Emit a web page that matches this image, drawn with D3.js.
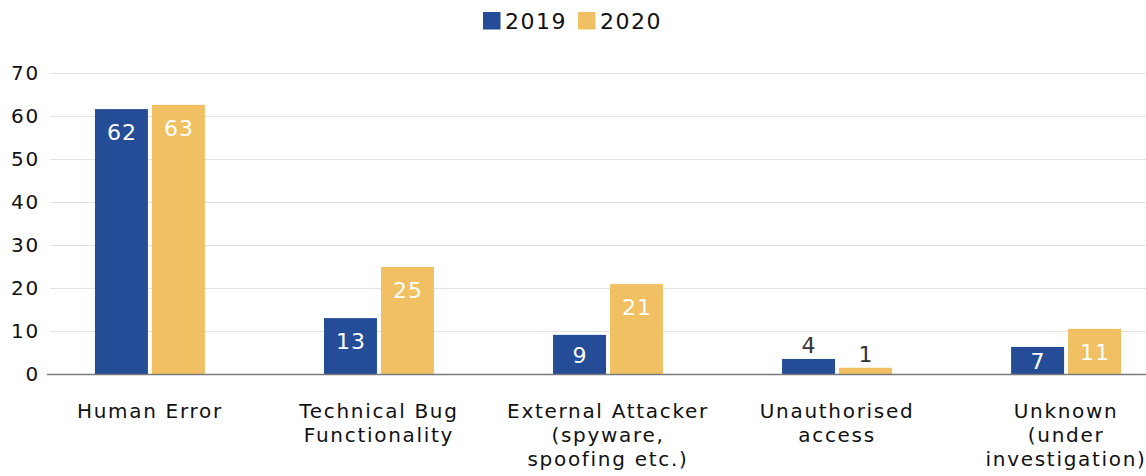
<!DOCTYPE html>
<html><head><meta charset="utf-8">
<script src="https://cdn.jsdelivr.net/npm/d3@7"></script>
<style>
html,body{margin:0;padding:0;background:#fff;}
svg{display:block;font-family:"DejaVu Sans",Verdana,sans-serif;}
</style></head>
<body><svg id="c" width="1146" height="476"></svg>
<script>
const categories = ["Human Error", "Technical Bug Functionality", "External Attacker (spyware, spoofing etc.)", "Unauthorised access", "Unknown (under investigation)"];
const categoryLines = [["Human Error"], ["Technical Bug", "Functionality"], ["External Attacker", "(spyware,", "spoofing etc.)"], ["Unauthorised", "access"], ["Unknown", "(under", "investigation)"]];
const seriesNames = ["2019", "2020"];
const values2019 = [61.6, 13.0, 9.1, 3.5, 6.3];
const values2020 = [62.6, 24.9, 20.9, 1.45, 10.5];
const labels2019 = [62, 13, 9, 4, 7];
const labels2020 = [63, 25, 21, 1, 11];
const yTicks = [0, 10, 20, 30, 40, 50, 60, 70];
const colors = ["#244C97", "#F0C063"];

const svg = d3.select("#c");
const y = d3.scaleLinear().domain([0, 70]).range([374, 73]);
const x0 = d3.scaleBand().domain(categories).range([35.4, 1180.6]).paddingInner(0.52).paddingOuter(0.26);
const x1 = d3.scaleBand().domain(seriesNames).range([0, x0.bandwidth()]).paddingInner(0.07);
const color = d3.scaleOrdinal().domain(seriesNames).range(colors);

// gridlines
svg.append("g").selectAll("line").data(yTicks.filter(d => d > 0)).join("line")
  .attr("x1", 50).attr("x2", 1146)
  .attr("y1", d => Math.round(y(d)) + 0.5).attr("y2", d => Math.round(y(d)) + 0.5)
  .attr("stroke", "#e3e3e3").attr("stroke-width", 1.2);

// y tick labels
svg.append("g").selectAll("text").data(yTicks).join("text")
  .attr("x", 40).attr("y", d => y(d)).attr("dy", "0.36em")
  .attr("text-anchor", "end").attr("font-size", 20).attr("letter-spacing", 1.8)
  .attr("fill", "#111").text(d => d);

const rows = categories.map((c, i) => ({
  cat: c,
  bars: [
    {s: "2019", v: values2019[i], l: labels2019[i]},
    {s: "2020", v: values2020[i], l: labels2020[i]}
  ]
}));

const groups = svg.append("g").selectAll("g").data(rows).join("g")
  .attr("transform", d => `translate(${x0(d.cat)},0)`);

groups.selectAll("rect").data(d => d.bars).join("rect")
  .attr("x", d => x1(d.s)).attr("width", x1.bandwidth())
  .attr("y", d => y(d.v)).attr("height", d => y(0) - y(d.v))
  .attr("fill", d => color(d.s));

groups.selectAll("text").data(d => d.bars).join("text")
  .attr("x", d => x1(d.s) + x1.bandwidth() / 2 + 0.5)
  .attr("y", d => {
    const top = y(d.v), h = y(0) - top;
    if (h < 22) return top - 14;
    return Math.min(top + 23, top + h / 2 + 1);
  })
  .attr("dy", "0.36em").attr("text-anchor", "middle")
  .attr("font-size", 22).attr("letter-spacing", 1)
  .attr("fill", d => (y(0) - y(d.v) < 22) ? "#333" : "#fff")
  .text(d => d.l);

// zero axis line
svg.append("line").attr("x1", 47).attr("x2", 1146)
  .attr("y1", y(0) + 0.5).attr("y2", y(0) + 0.5)
  .attr("stroke", "#7a7a7a").attr("stroke-width", 1.5);

// category labels
const cl = svg.append("g").selectAll("text").data(categories).join("text")
  .attr("x", d => x0(d) + x0.bandwidth() / 2)
  .attr("y", 411).attr("text-anchor", "middle")
  .attr("font-size", 20).attr("letter-spacing", 1.7).attr("fill", "#111");
cl.each(function(d, i) {
  d3.select(this).selectAll("tspan").data(categoryLines[i]).join("tspan")
    .attr("x", x0(d) + x0.bandwidth() / 2)
    .attr("dy", (t, j) => j === 0 ? "0.36em" : "1.2em")
    .text(t => t);
});

// legend
const legend = svg.append("g");
const legItems = [{s: "2019", x: 483}, {s: "2020", x: 578}];
legend.selectAll("rect").data(seriesNames).join("rect")
  .attr("x", (d, i) => legItems[i].x).attr("y", 12).attr("width", 17.5).attr("height", 17.5)
  .attr("fill", d => color(d));
legend.selectAll("text").data(seriesNames).join("text")
  .attr("x", (d, i) => legItems[i].x + 22).attr("y", 21).attr("dy", "0.36em")
  .attr("font-size", 22).attr("letter-spacing", 1.5).attr("fill", "#111")
  .text(d => d);
</script></body></html>
